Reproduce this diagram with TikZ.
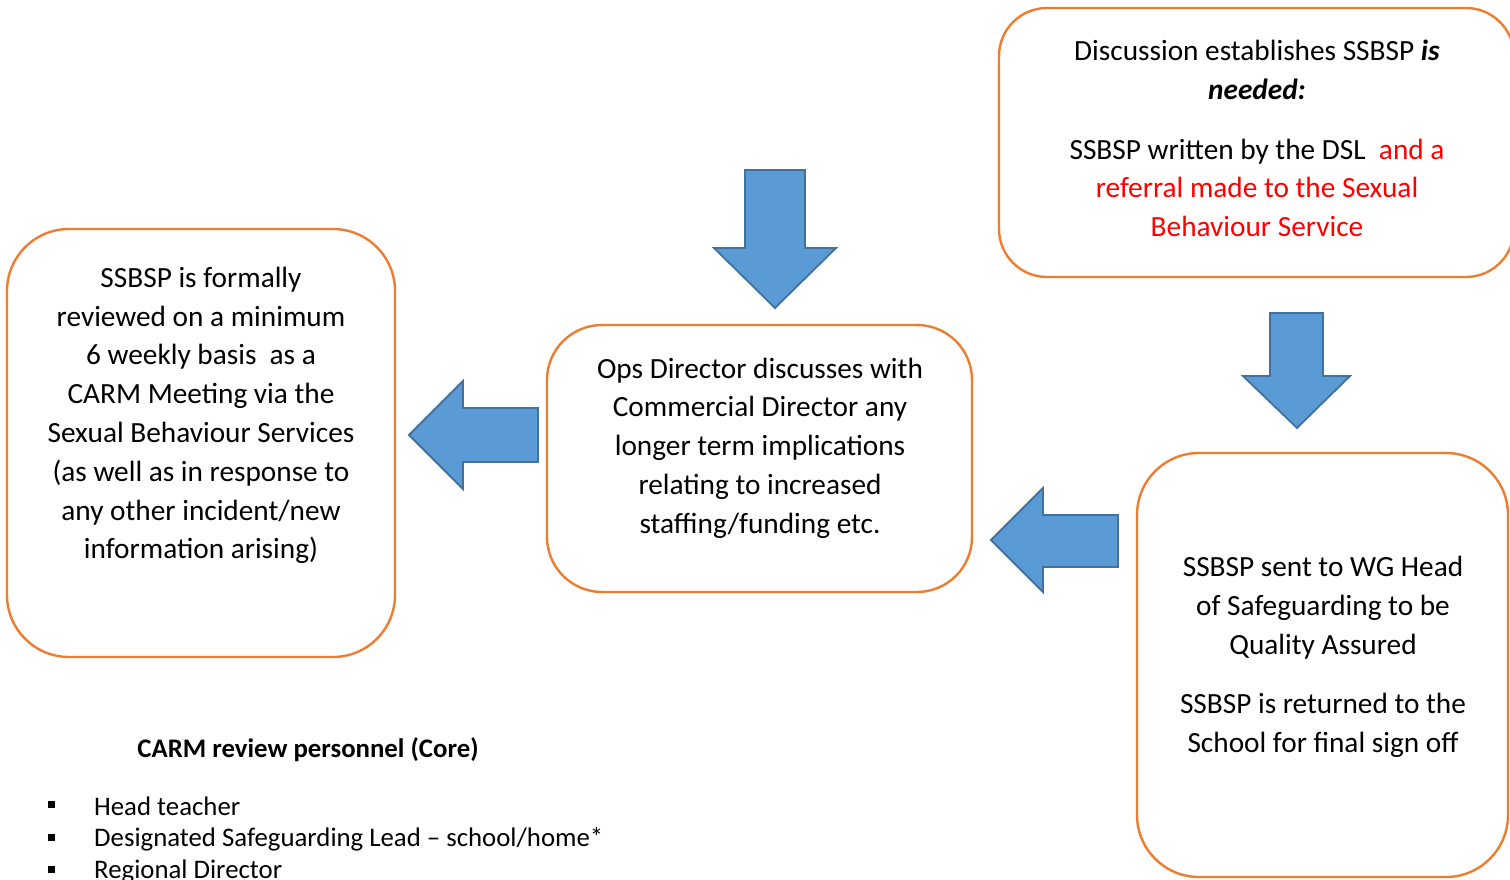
\documentclass[tikz,border=0pt]{standalone}
\usepackage{fontspec}
\setmainfont{Carlito}
\definecolor{boxorange}{HTML}{ED7D31}
\definecolor{arrowfill}{HTML}{5B9BD5}
\definecolor{arrowline}{HTML}{41719C}
\definecolor{redtext}{HTML}{FF0000}
\begin{document}
\begin{tikzpicture}[x=1pt,y=-1pt,
  stagebox/.style={draw=boxorange,line width=2.4pt,fill=white},
  stagetext/.style={font=\fontsize{29.3}{38.8}\selectfont,align=center,inner sep=0pt},
  blockarrow/.style={fill=arrowfill,draw=arrowline,line width=1.8pt,line join=miter},
  listtext/.style={font=\fontsize{26.8}{30}\selectfont,anchor=west,inner sep=0pt},
  bulletsq/.style={fill=black,draw=none,minimum size=7pt,inner sep=0pt}
]
\useasboundingbox (0,0) rectangle (1510,880);
\fill[white] (0,0) rectangle (1510,880);

% boxes
\draw[stagebox,rounded corners=48pt] (999,8) rectangle (1514,277);
\draw[stagebox,rounded corners=62pt] (7,229) rectangle (395,657);
\draw[stagebox,rounded corners=55pt] (547,325) rectangle (972,592);
\draw[stagebox,rounded corners=62pt] (1137,453) rectangle (1508,877);

% texts
\node[stagetext] (t1) at (1257,138.5) {Discussion establishes SSBSP \textbf{\textit{is}}\\ \textbf{\textit{needed:}}\\[21pt] SSBSP written by the DSL \ \textcolor{redtext}{and a}\\ \textcolor{redtext}{referral made to the Sexual}\\ \textcolor{redtext}{Behaviour Service}};
\node[stagetext] (t2) at (201,415.5) {SSBSP is formally\\ reviewed on a minimum\\ 6 weekly basis \ as a\\ CARM Meeting via the\\ Sexual Behaviour Services\\ (as well as in response to\\ any other incident/new\\ information arising)};
\node[stagetext] (t3) at (760,448) {Ops Director discusses with\\ Commercial Director any\\ longer term implications\\ relating to increased\\ staffing/funding etc.};
\node[stagetext] (t4) at (1323,657) {SSBSP sent to WG Head\\ of Safeguarding to be\\ Quality Assured\\[21pt] SSBSP is returned to the\\ School for final sign off};

% block arrows
\draw[blockarrow] (745,170) -- (805,170) -- (805,248) -- (836,248) -- (775,308) -- (714,248) -- (745,248) -- cycle;
\draw[blockarrow] (1270,313) -- (1323,313) -- (1323,376) -- (1350,376) -- (1297,428) -- (1243,376) -- (1270,376) -- cycle;
\draw[blockarrow] (538,408) -- (463,408) -- (463,381) -- (409,435) -- (463,489) -- (463,462) -- (538,462) -- cycle;
\draw[blockarrow] (1118,515) -- (1043,515) -- (1043,488) -- (991,540) -- (1043,592) -- (1043,567) -- (1118,567) -- cycle;

% personnel list
\node[font=\fontsize{26.8}{30}\selectfont\bfseries,inner sep=0pt] (hd) at (308,750) {CARM review personnel (Core)};
\node[bulletsq] (b1) at (51,804) {};
\node[bulletsq] (b2) at (51,837) {};
\node[bulletsq] (b3) at (51,869) {};
\node[listtext] (l1) at (94,806) {Head teacher};
\node[listtext] (l2) at (94,839) {Designated Safeguarding Lead – school/home*};
\node[listtext] (l3) at (94,871) {Regional Director};
\end{tikzpicture}
\end{document}
